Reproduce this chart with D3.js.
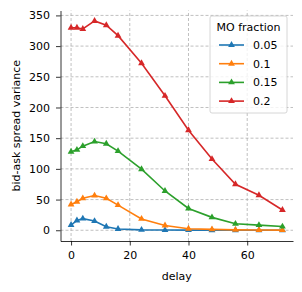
<!DOCTYPE html>
<html>
<head>
<meta charset="utf-8">
<script src="https://cdn.jsdelivr.net/npm/d3@7"></script>
<style>
  body { margin: 0; background: #fff; }
  svg { font-family: "DejaVu Sans", sans-serif; }
</style>
</head>
<body>
<script>
// data
var delays = [0, 2, 4, 8, 12, 16, 24, 32, 40, 48, 56, 64, 72];
var fractions = ["0.05", "0.1", "0.15", "0.2"];
var colors = ["#1f77b4", "#ff7f0e", "#2ca02c", "#d62728"];
var var005 = [8.5, 16, 19, 15, 5.7, 2, 0.6, 0.3, 0.2, 0.1, 0.1, 0.1, 0.1];
var var010 = [42, 46.5, 52, 56.5, 52, 41, 18.5, 7.8, 2.5, 1.5, 0.6, 0.3, 0.2];
var var015 = [128, 131, 137, 144.5, 141, 129, 99.5, 64, 35.5, 21, 10.5, 8.4, 6];
var var020 = [330, 330, 328, 341, 334, 317, 272, 219, 163, 116, 75, 57, 33];
var xTicks = [0, 20, 40, 60];
var yTicks = [0, 50, 100, 150, 200, 250, 300, 350];

var series = [var005, var010, var015, var020];

var W = 302, H = 292;
var margin = { left: 60.5, top: 10.5, right: 9, bottom: 51 };
var FS = 11;

var svg = d3.select("body").append("svg")
  .attr("width", W)
  .attr("height", H);

var x = d3.scaleLinear().domain([-3.6, 75.6]).range([margin.left, W - margin.right]);
var y = d3.scaleLinear().domain([-17.5, 358]).range([H - margin.bottom, margin.top]);

// grid
var grid = svg.append("g").attr("stroke", "#b0b0b0").attr("stroke-width", 0.8)
  .attr("stroke-dasharray", "3,2");
grid.selectAll(".gx").data(xTicks).enter().append("line")
  .attr("x1", function (d) { return x(d); }).attr("x2", function (d) { return x(d); })
  .attr("y1", y.range()[0]).attr("y2", y.range()[1]);
grid.selectAll(".gy").data(yTicks).enter().append("line")
  .attr("y1", function (d) { return y(d); }).attr("y2", function (d) { return y(d); })
  .attr("x1", x.range()[0]).attr("x2", x.range()[1]);

// axes
var xAxis = svg.append("g")
  .attr("transform", "translate(0," + (H - margin.bottom) + ")")
  .call(d3.axisBottom(x).tickValues(xTicks).tickSize(4.5).tickPadding(6).tickSizeOuter(0));
var yAxis = svg.append("g")
  .attr("transform", "translate(" + margin.left + ",0)")
  .call(d3.axisLeft(y).tickValues(yTicks).tickSize(4.5).tickPadding(6).tickSizeOuter(0));
[xAxis, yAxis].forEach(function (a) {
  a.selectAll("text").attr("font-size", FS).attr("fill", "#000").attr("font-family", "DejaVu Sans, sans-serif");
  a.select(".domain").attr("stroke", "#000").attr("stroke-width", 0.8);
  a.selectAll(".tick line").attr("stroke", "#000").attr("stroke-width", 0.8);
});

svg.append("text").attr("x", (x.range()[0] + x.range()[1]) / 2).attr("y", 280)
  .attr("text-anchor", "middle").attr("font-size", FS).text("delay");
svg.append("text")
  .attr("transform", "translate(19.5," + ((y.range()[0] + y.range()[1]) / 2) + ") rotate(-90)")
  .attr("text-anchor", "middle").attr("font-size", FS).text("bid-ask spread variance");

// lines + markers
var line = d3.line().x(function (d, i) { return x(delays[i]); }).y(function (d) { return y(d); });
var tri = d3.symbol().type(d3.symbolTriangle).size(20);

series.forEach(function (vals, k) {
  var g = svg.append("g");
  g.append("path").datum(vals)
    .attr("d", line)
    .attr("fill", "none")
    .attr("stroke", colors[k])
    .attr("stroke-width", 1.6);
  g.selectAll("path.m").data(vals).enter().append("path")
    .attr("class", "m")
    .attr("d", tri)
    .attr("transform", function (d, i) { return "translate(" + x(delays[i]) + "," + y(d) + ")"; })
    .attr("fill", colors[k]);
});

// legend
var leg = svg.append("g").attr("transform", "translate(210,16)");
leg.append("rect").attr("width", 77).attr("height", 97).attr("rx", 2)
  .attr("fill", "#fff").attr("fill-opacity", 0.8)
  .attr("stroke", "#cccccc").attr("stroke-width", 0.8);
leg.append("text").attr("x", 38.5).attr("y", 15).attr("text-anchor", "middle")
  .attr("font-size", FS).text("MO fraction");
var items = leg.selectAll(".item").data(fractions).enter().append("g")
  .attr("transform", function (d, i) { return "translate(0," + (29 + i * 18.7) + ")"; });
items.append("line").attr("x1", 9).attr("x2", 34).attr("y1", 0).attr("y2", 0)
  .attr("stroke", function (d, i) { return colors[i]; }).attr("stroke-width", 1.6);
items.append("path").attr("d", tri).attr("transform", "translate(21.5,0)")
  .attr("fill", function (d, i) { return colors[i]; });
items.append("text").attr("x", 43).attr("y", 4).attr("font-size", FS).text(function (d) { return d; });
</script>
</body>
</html>
